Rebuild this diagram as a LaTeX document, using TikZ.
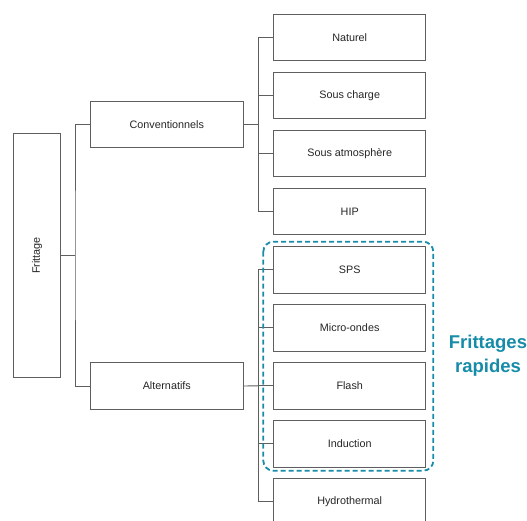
\documentclass[tikz,border=0pt]{standalone}
\usepackage{fontspec}
\setmainfont{Liberation Sans}
\definecolor{boxline}{HTML}{5E5E5E}
\definecolor{txt}{HTML}{262626}
\definecolor{tealc}{HTML}{168CA8}
\begin{document}
\begin{tikzpicture}[x=1pt,y=-1pt,
  box/.style={draw=boxline, line width=0.9pt, fill=white, minimum width=152pt, minimum height=46.5pt, inner sep=0pt, text=txt, font=\fontsize{10.8}{13}\selectfont},
  conn/.style={draw=boxline, line width=0.9pt},
]
\useasboundingbox (0,0) rectangle (527,521);

\node[box, minimum width=47pt, minimum height=244.5pt] (frit) at (37,255.5) {\rotatebox{90}{Frittage}};
\node[box, minimum width=153pt] (conv) at (166.8,124.5) {Conventionnels};
\node[box, minimum width=153pt] (alt) at (166.8,386) {Alternatifs};

\node[box] (nat) at (349.7,37.7) {Naturel};
\node[box] (sch) at (349.7,95.7) {Sous charge};
\node[box] (satm) at (349.7,153.7) {Sous atmosphère};
\node[box] (hip) at (349.7,211.7) {HIP};
\node[box] (sps) at (349.7,269.7) {SPS};
\node[box] (mo) at (349.7,327.7) {Micro-ondes};
\node[box] (fla) at (349.7,385.8) {Flash};
\node[box] (ind) at (349.7,443.9) {Induction};
\node[box] (hyd) at (349.7,501.7) {Hydrothermal};

\coordinate (b0) at (75,255.5);
\coordinate (b1) at (258.3,124.5);
\coordinate (b2) at (258.3,385.8);

\draw[conn] (frit.east) -- (b0);
\draw[conn] (conv.west) -| (b0) |- (alt.west);

\draw[conn] (conv.east) -- (b1);
\foreach \n in {nat,sch,satm,hip} \draw[conn] (b1) |- (\n.west);

\draw[conn] (alt.east) -- (b2);
\foreach \n in {sps,mo,fla,ind,hyd} \draw[conn] (b2) |- (\n.west);

% dashed grouping (drawn over the connectors)
\draw[tealc, line width=1.8pt, dash pattern=on 5pt off 3pt, rounded corners=10pt] (263.3,241.7) rectangle (433.3,470.7);

\node[text=tealc, font=\bfseries\fontsize{18.5}{23.7}\selectfont, align=center] (lab) at (488,356) {Frittages\\rapides};
\end{tikzpicture}
\end{document}
